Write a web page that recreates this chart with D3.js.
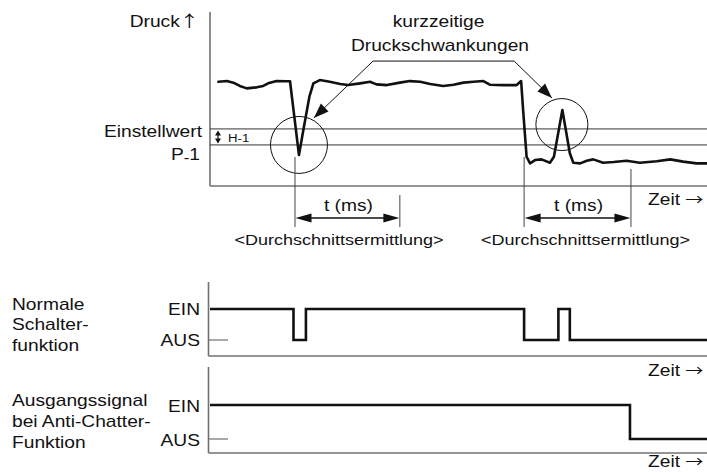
<!DOCTYPE html>
<html><head><meta charset="utf-8">
<script src="https://cdn.jsdelivr.net/npm/d3@7"></script>
<style>
html,body{margin:0;padding:0;background:#fff;}
svg{display:block;font-family:"Liberation Sans",Arial,Helvetica,sans-serif;}
</style>
</head><body>
<svg id="c" width="707" height="472"></svg>
<script>
// ---------- data ----------
const pressureTime = [1.7,3.4,4.7,6.0,7.4,9.4,10.7,11.7,13.4,15.4,16.1,16.8,17.9,18.9,20.0,20.8,22.1,24.1,26.2,27.8,30.2,32.2,33.5,35.6,38.2,40.2,42.3,44.3,46.9,49.0,51.0,53.0,55.0,56.3,59.0,61.7,62.6,63.0,63.7,64.4,65.4,66.7,68.4,69.2,70.9,72.4,73.1,74.5,75.8,77.1,79.1,81.2,83.8,86.5,89.9,92.6,95.2,97.9,100];
const pressureValue = [59.9,60.3,59.4,57.5,56.1,56.7,57.5,59.0,60.3,60.2,60.2,43.7,17.8,34.1,51.3,59.0,60.9,59.9,58.6,58.0,59.0,59.9,58.4,58.0,59.4,60.3,59.9,58.6,57.5,58.2,59.4,59.9,60.3,58.2,58.0,58.0,60.3,43.7,16.8,13.0,14.9,15.3,13.4,16.8,43.7,18.8,13.4,13.0,14.5,15.3,13.4,13.8,14.5,13.4,14.2,15.3,14.0,13.0,13.0];
const setpointValue = 32.8;     // Einstellwert
const resetValue = 23.6;        // P-1 (Einstellwert - H-1)
const fluctuationTime = [17.9, 70.8];
const fluctuationValue = [23.6, 35.3];
const windowStart = [17.1, 63.2];
const windowEnd = [38.2, 84.7];
const normalTime = [0, 16.8, 19.3, 63.2, 70.1, 72.4, 100];
const normalState = [1, 0, 1, 0, 1, 0, 0];
const antiChatterTime = [0, 84.5, 100];
const antiChatterState = [1, 0, 0];
const stateLabels = ["AUS", "EIN"];
const panelLabels = [["Normale","Schalter-","funktion"], ["Ausgangssignal","bei Anti-Chatter-","Funktion"]];

// ---------- setup ----------
const svg = d3.select('#c');
const STRETCH = 1.2;
const axisColor = '#707070';
const ink = '#111';
const x = d3.scaleLinear().domain([0, 100]).range([210, 707]);
const yP = d3.scaleLinear().domain([0, 100]).range([186, 12]);

// text drawn with a horizontal stretch (the reference lettering is wide)
function label(txt, px, py, anchor, size, arrow, arrowSize) {
  const t = svg.append('text')
    .attr('transform', `translate(${px},${py}) scale(${STRETCH},1)`)
    .attr('text-anchor', anchor || 'start').attr('font-size', size || 16)
    .attr('fill', ink);
  t.append('tspan').text(txt);
  if (arrow) {
    t.append('tspan').attr('font-family', '"Noto Sans CJK JP","DejaVu Sans"').attr('font-size', arrowSize || 16).text(arrow);
  }
  return t;
}
function arrowHead(tx, ty, ux, uy, len, hw) {
  const bx = tx - ux * len, by = ty - uy * len;
  const nx = -uy, ny = ux;
  svg.append('path')
    .attr('d', `M${tx},${ty}L${bx + nx * hw},${by + ny * hw}L${bx - nx * hw},${by - ny * hw}Z`)
    .attr('fill', ink);
}

// ---------- top panel: pressure ----------
const x0 = x.range()[0], x1 = x.range()[1];
svg.append('line').attr('x1', x0).attr('x2', x0).attr('y1', yP.range()[1]).attr('y2', yP.range()[0])
  .attr('stroke', axisColor).attr('stroke-width', 1.6);
svg.append('line').attr('x1', x0).attr('x2', x1).attr('y1', yP.range()[0]).attr('y2', yP.range()[0])
  .attr('stroke', axisColor).attr('stroke-width', 1.6);

[setpointValue, resetValue].forEach(v => {
  svg.append('line').attr('x1', x0).attr('x2', x1).attr('y1', yP(v)).attr('y2', yP(v))
    .attr('stroke', '#333').attr('stroke-width', 1);
});

// H-1 hysteresis arrow
const hx = x0 + 8;
svg.append('line').attr('x1', hx).attr('x2', hx).attr('y1', yP(setpointValue) + 3).attr('y2', yP(resetValue) - 3)
  .attr('stroke', ink).attr('stroke-width', 1.2);
arrowHead(hx, yP(setpointValue) + 1.5, 0, -1, 5, 3);
arrowHead(hx, yP(resetValue) - 1.5, 0, 1, 5, 3);
label('H-1', hx + 10, yP(resetValue) - 2.5, 'start', 11);

// pressure trace
const pts = pressureTime.map((t, i) => [t, pressureValue[i]]);
svg.append('path').datum(pts)
  .attr('d', d3.line().x(d => x(d[0])).y(d => yP(d[1])))
  .attr('fill', 'none').attr('stroke', ink).attr('stroke-width', 2.6)
  .attr('stroke-linejoin', 'round').attr('stroke-linecap', 'round');

// circles round the fluctuations
const radii = [28.5, 26];
fluctuationTime.forEach((t, i) => {
  svg.append('circle').attr('cx', x(t)).attr('cy', yP(fluctuationValue[i])).attr('r', radii[i])
    .attr('fill', 'none').attr('stroke', ink).attr('stroke-width', 1);
});

// annotation bracket with arrows
const bracket = [[20.9, 39.1], [32.8, 71.8], [61.2, 71.8], [68.8, 50.6]];
svg.append('path').datum(bracket)
  .attr('d', d3.line().x(d => x(d[0])).y(d => yP(d[1])))
  .attr('fill', 'none').attr('stroke', ink).attr('stroke-width', 1);
[[bracket[1], bracket[0]], [bracket[2], bracket[3]]].forEach(([a, b]) => {
  const dx = x(b[0]) - x(a[0]), dy = yP(b[1]) - yP(a[1]);
  const L = Math.hypot(dx, dy);
  arrowHead(x(b[0]), yP(b[1]), dx / L, dy / L, 15, 5.5);
});
label('kurzzeitige', 438.5, 27, 'middle');
label('Druckschwankungen', 440, 51, 'middle');

// averaging windows
const dimTop = [[157, 195], [157, 169]];
windowStart.forEach((s, i) => {
  const e = windowEnd[i];
  svg.append('line').attr('x1', x(s)).attr('x2', x(s)).attr('y1', dimTop[i][0]).attr('y2', 227)
    .attr('stroke', '#444').attr('stroke-width', 1);
  svg.append('line').attr('x1', x(e)).attr('x2', x(e)).attr('y1', dimTop[i][1]).attr('y2', 227)
    .attr('stroke', '#444').attr('stroke-width', 1);
  svg.append('line').attr('x1', x(s) + 4).attr('x2', x(e) - 4).attr('y1', 218).attr('y2', 218)
    .attr('stroke', ink).attr('stroke-width', 1.3);
  arrowHead(x(s) + 0.5, 218, -1, 0, 16, 4.5);
  arrowHead(x(e) - 0.5, 218, 1, 0, 16, 4.5);
  label('t (ms)', (x(s) + x(e)) / 2 + 1, 211, 'middle');
});
label('<Durchschnittsermittlung>', 339, 245, 'middle', 15);
label('<Durchschnittsermittlung>', 585.5, 245, 'middle', 15);
label('Zeit ', 648, 205, 'start', 16, '\u2192', 15);

// left labels of top panel
label('Druck', 199, 27, 'end', 16, '\u2191', 16);
label('Einstellwert', 202, 137, 'end');
const p1 = svg.append('text').attr('transform', `translate(200,160) scale(${STRETCH},1)`)
  .attr('text-anchor', 'end').attr('font-size', 16).attr('fill', ink);
p1.append('tspan').text('P');
p1.append('tspan').attr('dy', 3).attr('font-size', 14).text('-');
p1.append('tspan').attr('dy', -3).text('1');

// ---------- switching panels ----------
const panels = [
  { top: 282, bottom: 356, y: d3.scaleLinear().domain([0, 1]).range([340, 309]),
    time: normalTime, state: normalState, labelY: [310, 330, 351], stateY: [346, 315], zeitY: 376 },
  { top: 367, bottom: 453, y: d3.scaleLinear().domain([0, 1]).range([439, 405]),
    time: antiChatterTime, state: antiChatterState, labelY: [406, 427, 448], stateY: [446, 412], zeitY: 467 }
];
panels.forEach((p, pi) => {
  svg.append('line').attr('x1', x0 - 1.5).attr('x2', x0 - 1.5).attr('y1', p.top).attr('y2', p.bottom)
    .attr('stroke', axisColor).attr('stroke-width', 1.6);
  svg.append('line').attr('x1', x0 - 1.5).attr('x2', x1).attr('y1', p.bottom).attr('y2', p.bottom)
    .attr('stroke', axisColor).attr('stroke-width', 1.6);
  // AUS tick
  svg.append('line').attr('x1', x0 - 1.5).attr('x2', x0 + 18).attr('y1', p.y(0)).attr('y2', p.y(0))
    .attr('stroke', axisColor).attr('stroke-width', 1.2);
  const sig = p.time.map((t, i) => [t, p.state[i]]);
  svg.append('path').datum(sig)
    .attr('d', d3.line().curve(d3.curveStepAfter).x(d => Math.max(x(d[0]), x0 - 1.5)).y(d => p.y(d[1])))
    .attr('fill', 'none').attr('stroke', ink).attr('stroke-width', 2.6).attr('stroke-linejoin', 'miter');
  stateLabels.forEach((s, si) => label(s, 200, p.stateY[si], 'end'));
  panelLabels[pi].forEach((s, li) => label(s, 12, p.labelY[li], 'start'));
  label('Zeit ', 648, p.zeitY, 'start', 16, '\u2192', 15);
});
</script>
</body></html>
